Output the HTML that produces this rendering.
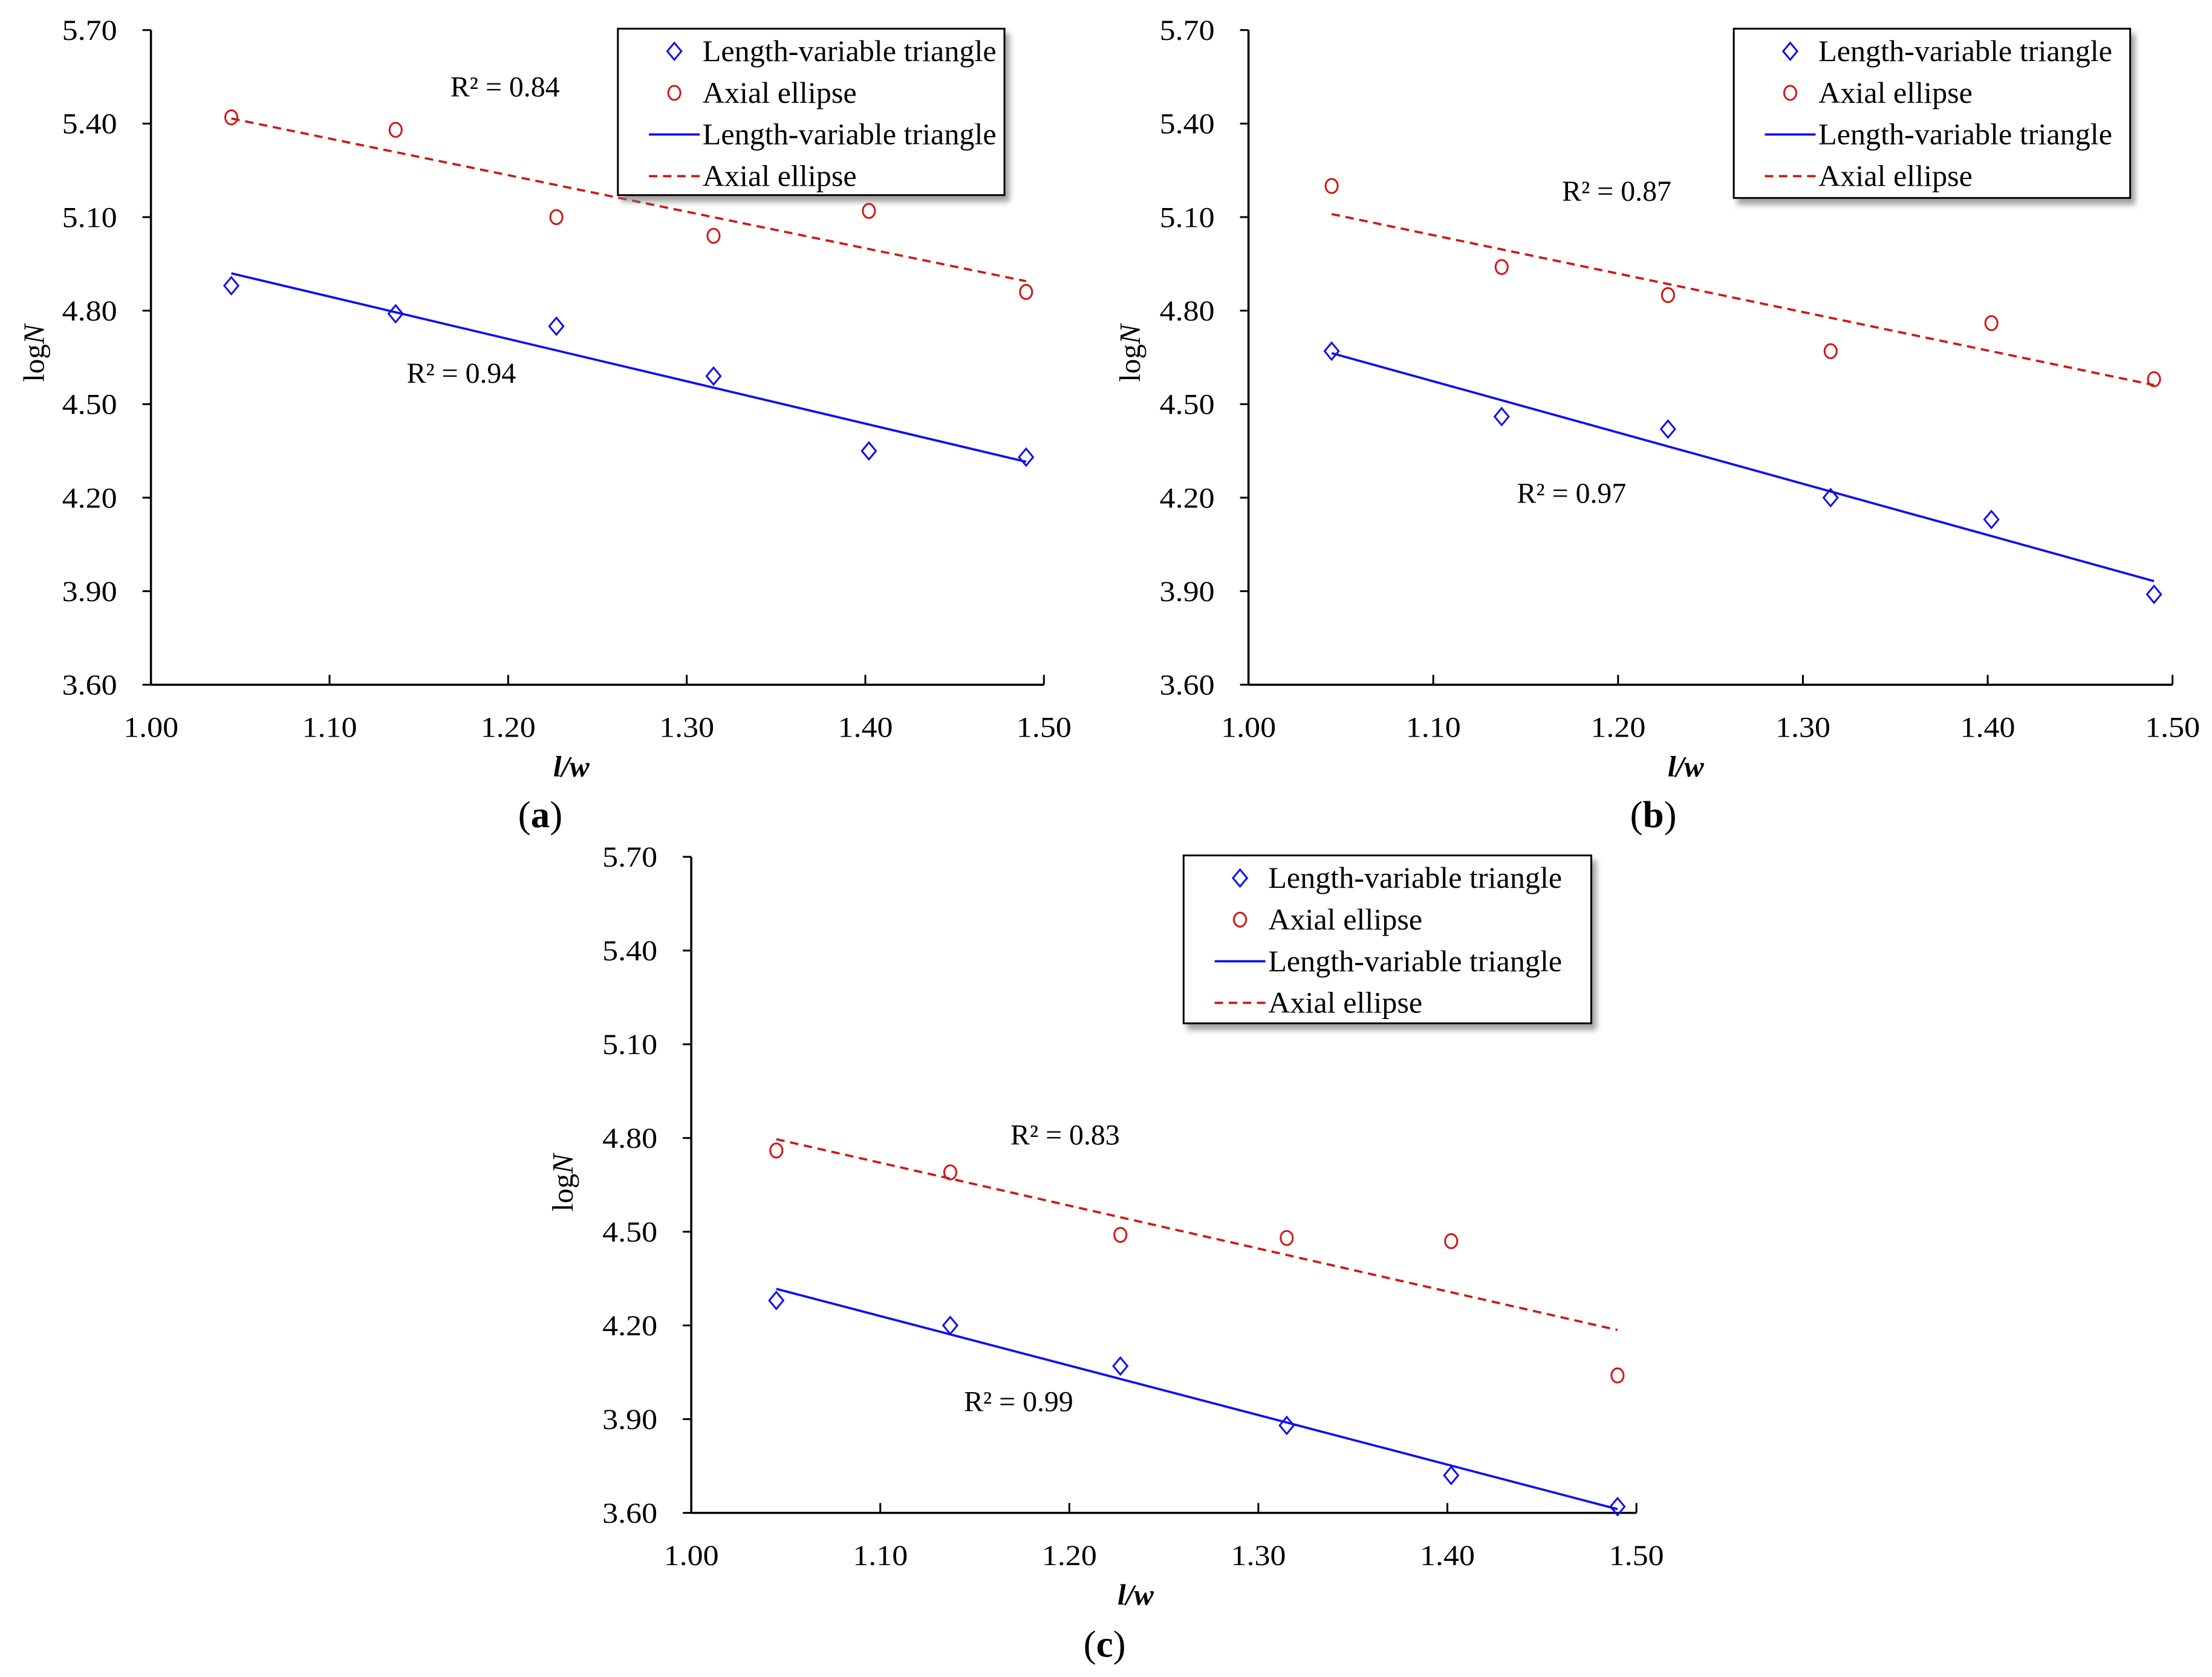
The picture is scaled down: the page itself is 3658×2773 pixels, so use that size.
<!DOCTYPE html>
<html><head><meta charset="utf-8"><style>
html,body{margin:0;padding:0;background:#fff}
svg{display:block}
text{font-family:"Liberation Serif",serif;fill:#000}
</style></head><body>
<svg id="fig" width="3658" height="2773" viewBox="0 0 1568 1188" xmlns="http://www.w3.org/2000/svg">
<defs><filter id="sh" x="-10%" y="-10%" width="130%" height="140%"><feDropShadow dx="3" dy="4" stdDeviation="2" flood-color="#777" flood-opacity="0.7"/></filter></defs>
</svg>
<script>
const xVals = [1.045, 1.137, 1.227, 1.315, 1.402, 1.49];
const triA = [4.88, 4.79, 4.75, 4.59, 4.35, 4.33];
const ellA = [5.42, 5.38, 5.10, 5.04, 5.12, 4.86];
const triB = [4.67, 4.46, 4.42, 4.20, 4.13, 3.89];
const ellB = [5.20, 4.94, 4.85, 4.67, 4.76, 4.58];
const triC = [4.28, 4.20, 4.07, 3.88, 3.72, 3.62];
const ellC = [4.76, 4.69, 4.49, 4.48, 4.47, 4.04];
const r2Labels = [["0.84","0.94"],["0.87","0.97"],["0.83","0.99"]];
const xTicks = [1.00, 1.10, 1.20, 1.30, 1.40, 1.50];
const yTicks = [3.60, 3.90, 4.20, 4.50, 4.80, 5.10, 5.40, 5.70];
const panelNames = ["a","b","c"];

const NS = "http://www.w3.org/2000/svg";
const svg = document.getElementById("fig");
function mk(tag, attrs, parent, txt){
  const e = document.createElementNS(NS, tag);
  for (const k in attrs) e.setAttribute(k, attrs[k]);
  if (txt !== undefined) e.textContent = txt;
  (parent||svg).appendChild(e);
  return e;
}
function regress(xs, ys){
  const n=xs.length, mx=xs.reduce((a,b)=>a+b)/n, my=ys.reduce((a,b)=>a+b)/n;
  let sxy=0,sxx=0;
  for(let i=0;i<n;i++){sxy+=(xs[i]-mx)*(ys[i]-my);sxx+=(xs[i]-mx)**2;}
  const m=sxy/sxx; return [m, my-m*mx];
}
const panels = [
  {x0:107,x1:740,yT:21,yB:485,tri:triA,ell:ellA,leg:[438,20,274,118],r:[[358,61],[327,264]],ylab:[25,250],xlab:[405,543],cap:[383,577]},
  {x0:885,x1:1540,yT:21,yB:485,tri:triB,ell:ellB,leg:[1229,20,281,120],r:[[1146,135],[1114,349]],ylab:[802,250],xlab:[1195,543],cap:[1172,577]},
  {x0:490,x1:1160,yT:607,yB:1072,tri:triC,ell:ellC,leg:[839,606,289,119],r:[[755,804],[722,993]],ylab:[400,838],xlab:[805,1130],cap:[783,1165]}
];
panels.forEach((p,pi)=>{
  const g = mk("g",{});
  
  
  const sx = v => p.x0 + (v-1.0)/(0.5)*(p.x1-p.x0);
  const sy = v => p.yB - (v-3.6)/(2.1)*(p.yB-p.yT);
  const ya = mk("line",{x1:p.x0,y1:p.yT,x2:p.x0,y2:p.yB,stroke:"#000","stroke-width":1.5},g);
  
  
  const xa = mk("line",{x1:p.x0,y1:p.yB,x2:p.x1,y2:p.yB,stroke:"#000","stroke-width":1.5},g);
  
  
  yTicks.forEach(t=>{
    mk("line",{x1:p.x0-6,y1:sy(t),x2:p.x0,y2:sy(t),stroke:"#000","stroke-width":1.3},g);
    const tl = mk("text",{x:p.x0-24,y:sy(t)+7,"text-anchor":"end","font-size":20.5,"textLength":39,"lengthAdjust":"spacingAndGlyphs"},g,t.toFixed(2));
    
    
  });
  xTicks.forEach(t=>{
    mk("line",{x1:sx(t),y1:p.yB,x2:sx(t),y2:p.yB-7,stroke:"#000","stroke-width":1.3},g);
    const tl = mk("text",{x:sx(t),y:p.yB+37,"text-anchor":"middle","font-size":20.5,"textLength":39,"lengthAdjust":"spacingAndGlyphs"},g,t.toFixed(2));
    
    
  });
  const [mt,bt] = regress(xVals,p.tri), [me,be] = regress(xVals,p.ell);
  const xa0=xVals[0], xa1=xVals[xVals.length-1];
  const ft = mk("line",{x1:sx(xa0),y1:sy(mt*xa0+bt),x2:sx(xa1),y2:sy(mt*xa1+bt),stroke:"#1010ee","stroke-width":1.6},g);
  
  
  const fe = mk("line",{x1:sx(xa0),y1:sy(me*xa0+be),x2:sx(xa1),y2:sy(me*xa1+be),stroke:"#d01818","stroke-width":1.6,"stroke-dasharray":"6,4"},g);
  
  
  xVals.forEach((x,i)=>{
    const cx=sx(x), cy=sy(p.tri[i]);
    const d = mk("polygon",{points:`${cx},${cy-6} ${cx+5},${cy} ${cx},${cy+6} ${cx-5},${cy}`,fill:"none",stroke:"#1010ee","stroke-width":1.3},g);
    
    
    const c = mk("ellipse",{cx:cx,cy:sy(p.ell[i]),rx:4.3,ry:5,fill:"none",stroke:"#d01818","stroke-width":1.3},g);
    
    
  });
  p.r.forEach((r,k)=>{
    const t = mk("text",{x:r[0],y:r[1]+7,"text-anchor":"middle","font-size":20.5},g,"R² = "+r2Labels[pi][k]);
    
    
  });
  const yl = mk("text",{x:0,y:0,"text-anchor":"middle","font-size":21,transform:`translate(${p.ylab[0]+6},${p.ylab[1]}) rotate(-90)`},g);
  
  
  mk("tspan",{},yl,"log");
  mk("tspan",{"font-style":"italic"},yl,"N");
  const xl = mk("text",{x:p.xlab[0],y:p.xlab[1]+7,"text-anchor":"middle","font-size":21,"font-style":"italic","font-weight":"bold"},g,"l/w");
  
  
  const cp = mk("text",{x:p.cap[0],y:p.cap[1]+9,"text-anchor":"middle","font-size":27},g);
  
  
  mk("tspan",{},cp,"(");
  mk("tspan",{"font-weight":"bold"},cp,panelNames[pi]);
  mk("tspan",{},cp,")");
  const [lx,ly,lw,lh] = p.leg;
  const lg = mk("g",{},g);
  
  
  mk("rect",{x:lx,y:ly,width:lw,height:lh,fill:"#fff",stroke:"#000","stroke-width":1.3,filter:"url(#sh)"},lg);
  const rows=["Length-variable triangle","Axial ellipse","Length-variable triangle","Axial ellipse"];
  rows.forEach((s,k)=>{
    const yy = ly+16+k*29.5;
    const mx = lx+40;
    if(k===0) mk("polygon",{points:`${mx},${yy-6} ${mx+5},${yy} ${mx},${yy+6} ${mx-5},${yy}`,fill:"none",stroke:"#1010ee","stroke-width":1.3},lg);
    if(k===1) mk("ellipse",{cx:mx,cy:yy,rx:4.3,ry:5,fill:"none",stroke:"#d01818","stroke-width":1.3},lg);
    if(k===2) mk("line",{x1:lx+22,y1:yy,x2:lx+58,y2:yy,stroke:"#1010ee","stroke-width":1.6},lg);
    if(k===3) mk("line",{x1:lx+22,y1:yy,x2:lx+58,y2:yy,stroke:"#d01818","stroke-width":1.6,"stroke-dasharray":"6,4"},lg);
    const lt = mk("text",{x:lx+60,y:yy+7,"font-size":21.5},lg,s);
    
    
  });
});
</script>
</body></html>
